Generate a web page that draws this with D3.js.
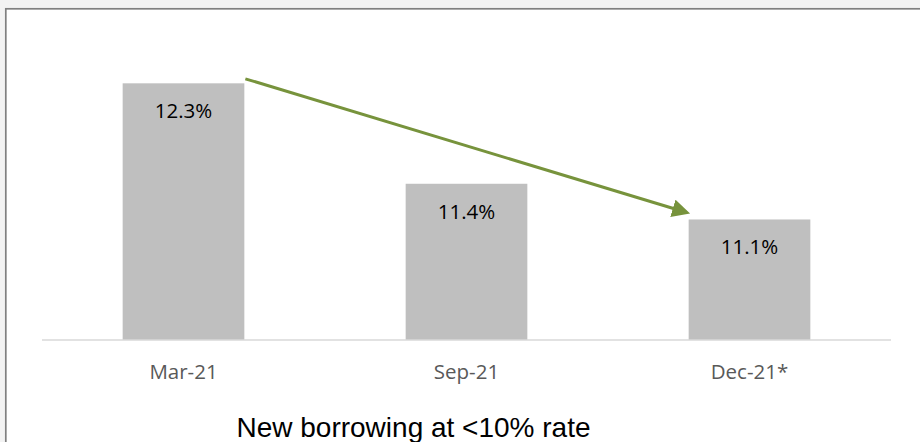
<!DOCTYPE html>
<html>
<head>
<meta charset="utf-8">
<script src="https://cdn.jsdelivr.net/npm/d3@7"></script>
<style>
  html, body { margin: 0; padding: 0; background: #f3f3f3; }
  svg { display: block; }
</style>
</head>
<body>
<div id="chart"></div>
<script>

// chart data
var periods = ["Mar-21", "Sep-21", "Dec-21*"];
var rates = [12.3, 11.4, 11.08];
var yDomain = [10, 12.5];
var chartTitle = "New borrowing at <10% rate";

var width = 920, height = 442;
var margin = {top: 61, right: 29, bottom: 102, left: 42};

var svg = d3.select("#chart").append("svg")
    .attr("width", width)
    .attr("height", height);

// white panel with the grey frame (right and bottom edges fall outside the picture)
svg.append("rect")
    .attr("x", 5.8)
    .attr("y", 8.8)
    .attr("width", 940)
    .attr("height", 460)
    .attr("fill", "#ffffff")
    .attr("stroke", "#808080")
    .attr("stroke-width", 1.7);

var x = d3.scaleBand()
    .domain(periods)
    .range([margin.left, width - margin.right])
    .paddingInner(0.57)
    .paddingOuter(0.285);

var y = d3.scaleLinear()
    .domain(yDomain)
    .range([height - margin.bottom, margin.top]);

var data = periods.map(function(p, i) {
    return {period: p, rate: rates[i]};
});

// bars
svg.selectAll(".bar")
    .data(data)
  .enter().append("rect")
    .attr("class", "bar")
    .attr("x", function(d) { return x(d.period); })
    .attr("y", function(d) { return y(d.rate); })
    .attr("width", x.bandwidth())
    .attr("height", function(d) { return y(yDomain[0]) - y(d.rate); })
    .attr("fill", "#bfbfbf");

// value labels inside the bars
svg.selectAll(".valueLabel")
    .data(data)
  .enter().append("text")
    .attr("class", "valueLabel")
    .attr("x", function(d) { return x(d.period) + x.bandwidth() / 2; })
    .attr("y", function(d) { return y(d.rate) + 35; })
    .attr("text-anchor", "middle")
    .attr("font-family", "'Open Sans', sans-serif")
    .attr("font-size", "20.5px")
    .attr("fill", "#000000")
    .text(function(d) { return d3.format(".1f")(d.rate) + "%"; });

// category axis
var xAxis = svg.append("g")
    .attr("transform", "translate(0," + y(yDomain[0]) + ")")
    .call(d3.axisBottom(x).tickSize(0).tickPadding(24));

xAxis.select(".domain")
    .attr("stroke", "#d9d9d9")
    .attr("stroke-width", 1.5)
    .attr("d", "M" + margin.left + ",0H" + (width - margin.right));

xAxis.selectAll("text")
    .attr("font-family", "'Open Sans', sans-serif")
    .attr("font-size", "20.5px")
    .attr("fill", "#595959");

// trend arrow from first to last bar
var first = data[0], last = data[data.length - 1];

svg.append("defs").append("marker")
    .attr("id", "arrowHead")
    .attr("viewBox", "0 0 10 10")
    .attr("refX", 8)
    .attr("refY", 5)
    .attr("markerWidth", 6)
    .attr("markerHeight", 6)
    .attr("markerUnits", "strokeWidth")
    .attr("orient", "auto")
  .append("path")
    .attr("d", "M0,0L10,5L0,10Z")
    .attr("fill", "#77933c");

svg.append("line")
    .attr("x1", x(first.period) + x.bandwidth() + 1)
    .attr("y1", y(first.rate) - 4.5)
    .attr("x2", x(last.period) - 2)
    .attr("y2", y(last.rate) - 7)
    .attr("stroke", "#77933c")
    .attr("stroke-width", 3)
    .attr("marker-end", "url(#arrowHead)");

// title under the chart
svg.append("text")
    .attr("x", 413.5)
    .attr("y", 437)
    .attr("text-anchor", "middle")
    .attr("font-family", "'Liberation Sans', Arial, sans-serif")
    .attr("font-size", "28px")
    .attr("fill", "#000000")
    .text(chartTitle);

</script>
</body>
</html>
